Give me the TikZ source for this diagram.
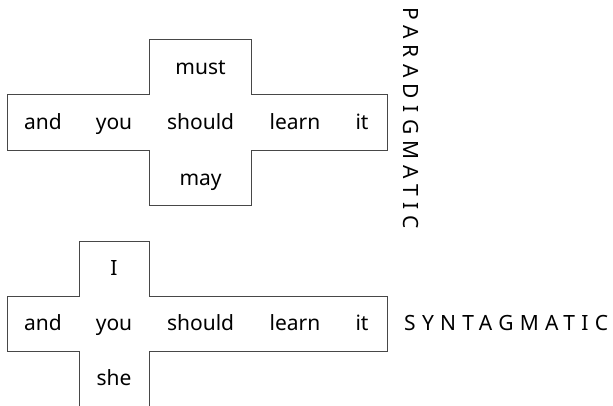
\documentclass[tikz,border=0pt]{standalone}
\usepackage{fontspec}
\setmainfont{Noto Sans}
\newfontfamily\spacedfont[LetterSpace=30]{Noto Sans}
\begin{document}
\begin{tikzpicture}[x=1pt,y=-1pt,
  outline/.style={draw=black!72,line width=1pt},
  word/.style={inner sep=0pt,anchor=base,font=\fontsize{21}{25}\selectfont,text=black},
  axislabel/.style={inner sep=0pt,anchor=base west,font=\fontsize{21}{25}\spacedfont,text=black}]
\useasboundingbox (0,0) rectangle (613,406);
\begin{scope}
\clip (0,0) rectangle (613,406);
% top cross (paradigmatic)
\draw[outline] (7.3,95) -- (149.3,95) -- (149.3,39.3) -- (251.7,39.3) -- (251.7,95)
  -- (387.3,95) -- (387.3,150.7) -- (251.7,150.7) -- (251.7,206) -- (149.3,206)
  -- (149.3,150.7) -- (7.3,150.7) -- cycle;
% bottom cross (syntagmatic)
\draw[outline] (7.3,296) -- (79,296) -- (79,241) -- (149,241) -- (149,296)
  -- (387.3,296) -- (387.3,351.7) -- (149,351.7) -- (149,407.4) -- (79,407.4)
  -- (79,351.7) -- (7.3,351.7) -- cycle;
\end{scope}
% top words
\node[word] (t-and) at (43,129.5) {and};
\node[word] (t-you) at (114,129.5) {you};
\node[word] (t-should) at (200.6,129.5) {should};
\node[word] (t-learn) at (295,129.5) {learn};
\node[word] (t-it) at (362,129.5) {it};
\node[word] (t-must) at (200.6,74.3) {must};
\node[word] (t-may) at (200.6,186) {may};
% bottom words
\node[word] (b-and) at (43,330) {and};
\node[word] (b-you) at (114,330) {you};
\node[word] (b-should) at (200.6,330) {should};
\node[word] (b-learn) at (295,330) {learn};
\node[word] (b-it) at (362,330) {it};
\node[word] (b-I) at (114,275) {I};
\node[word] (b-she) at (114,385.7) {she};
% axis labels
\node[axislabel,rotate=-90] (paradigmatic) at (403,7) {PARADIGMATIC};
\node[axislabel] (syntagmatic) at (404,330) {SYNTAGMATIC};
\end{tikzpicture}
\end{document}
